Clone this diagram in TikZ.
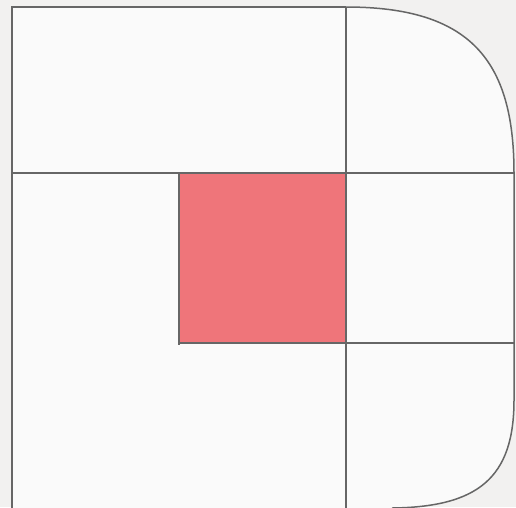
\documentclass[tikz,border=0pt]{standalone}
\definecolor{bgc}{HTML}{F2F1F0}
\definecolor{panel}{HTML}{FAFAFA}
\definecolor{edge}{HTML}{666666}
\definecolor{redfill}{HTML}{EF757A}
\begin{document}
\begin{tikzpicture}[x=1pt,y=-1pt,
  grid/.style={draw=edge,line width=2.8pt},
  outer/.style={draw=edge,line width=2.2pt},
  rim/.style={draw=edge,line width=1.5pt}]
\useasboundingbox (0,0) rectangle (516,507);
\clip (0,0) rectangle (516,507);
\fill[bgc] (0,0) rectangle (516,507);
% panel shape
\coordinate (tl) at (12,7);
\coordinate (tm) at (346,7);
\coordinate (rt) at (514,173);
\coordinate (rb) at (514,400);
\coordinate (bc) at (392,508);
\fill[panel] (12,512) -- (tl) -- (tm) .. controls (470,7) and (514,60) .. (rt)
  -- (rb) .. controls (514,478) and (478,507) .. (bc) -- (346,512) -- cycle;
% red square
\coordinate (r1) at (179,173);
\coordinate (r2) at (346,343);
\fill[redfill] (r1) rectangle (r2);
% rim curves
\draw[rim] (tm) .. controls (470,7) and (514,60) .. (rt) -- (rb)
  .. controls (514,478) and (478,507) .. (bc);
% grid lines
\draw[outer] (12,510) -- (tl) -- (tm);
\draw[grid] (12,173) -- (514,173);
\draw[grid] (346,7) -- (346,510);
\draw[grid] (346,343) -- (514,343);
\draw[outer] (179,173) -- (179,345);
\draw[outer] (178,343) -- (346,343);
\end{tikzpicture}
\end{document}
